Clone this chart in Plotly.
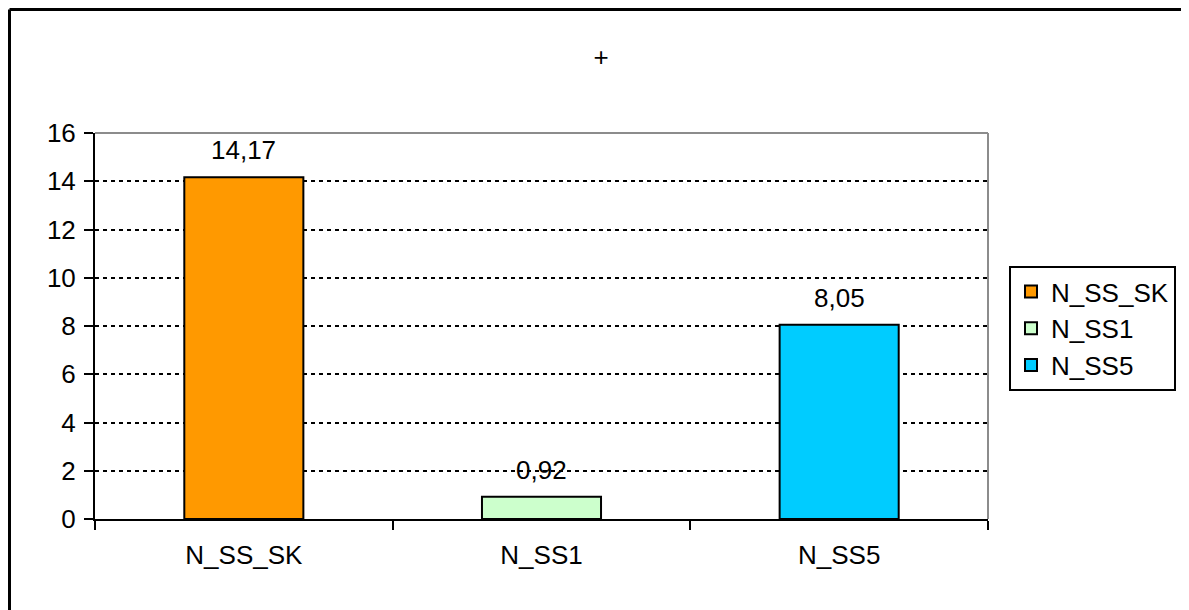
import plotly.graph_objects as go

categories = ["N_SS_SK", "N_SS1", "N_SS5"]
values = [14.17, 0.92, 8.05]
colors = ["#FF9900", "#CCFFCC", "#00CCFF"]
y_ticks = [0, 2, 4, 6, 8, 10, 12, 14, 16]
title_text = "+"

W, H = 1189, 610
OFF = 8  # page body margin
ML, MR, MT, MB = 87, 209, 125, 99
FONT = "Liberation Sans, Arial, sans-serif"
FS = 26

pw = W - ML - MR
ph = H - MT - MB


def px_x(px):
    return (px - OFF - ML) / pw


def px_y(py):
    return (H - MB - (py - OFF)) / ph


fig = go.Figure()
for i, (c, v, col) in enumerate(zip(categories, values, colors)):
    fig.add_trace(go.Bar(
        x=[c], y=[v], name=c, width=0.4,
        marker=dict(color=col, line=dict(color="black", width=2)),
        legendgroup=f"g{i}",
    ))
    fig.add_annotation(
        x=c, y=v, text=f"{v:.2f}".replace(".", ","), showarrow=False,
        yanchor="middle", yshift=27, font=dict(size=FS, color="black", family=FONT),
    )

fig.update_layout(
    width=W, height=H,
    margin=dict(l=ML, r=MR, t=MT, b=MB, pad=0),
    paper_bgcolor="white", plot_bgcolor="white",
    font=dict(family=FONT, size=FS, color="black"),
    barmode="overlay",
    title=dict(text=title_text, xref="container", x=(601 - OFF) / W, xanchor="center",
               yref="container", y=1 - (57 - OFF) / H, yanchor="middle",
               font=dict(size=FS)),
    showlegend=True,
    legend=dict(
        x=px_x(1009), y=px_y(266), xanchor="left", yanchor="top",
        bordercolor="black", borderwidth=2, bgcolor="white",
        font=dict(size=FS), tracegroupgap=0,
    ),
    xaxis=dict(
        type="category", categoryorder="array", categoryarray=categories,
        showline=True, linecolor="black", linewidth=2,
        ticks="outside", tickson="boundaries", ticklen=9, tickwidth=2, tickcolor="black",
        showgrid=False, ticklabelstandoff=12,
    ),
    yaxis=dict(
        range=[0, 16], tickvals=y_ticks, ticktext=[str(t) for t in y_ticks],
        showline=True, linecolor="black", linewidth=2,
        ticks="outside", ticklen=9, tickwidth=2, tickcolor="black",
        showgrid=True, gridcolor="black", gridwidth=2, griddash="4px,4px",
        zeroline=False, ticklabelstandoff=3,
    ),
    shapes=[
        dict(type="line", xref="paper", yref="paper", x0=0, x1=1, y0=1, y1=1,
             line=dict(color="#8c8c8c", width=2)),
        dict(type="line", xref="paper", yref="paper", x0=1, x1=1, y0=0, y1=1,
             line=dict(color="#8c8c8c", width=2)),
        dict(type="line", xref="paper", yref="paper", x0=px_x(9.5), x1=px_x(W + 40),
             y0=px_y(9.5), y1=px_y(9.5), line=dict(color="black", width=3)),
        dict(type="line", xref="paper", yref="paper", x0=px_x(9.5), x1=px_x(9.5),
             y0=px_y(9.5), y1=px_y(H + 40), line=dict(color="black", width=3)),
    ],
)

fig.write_html("out.html")
